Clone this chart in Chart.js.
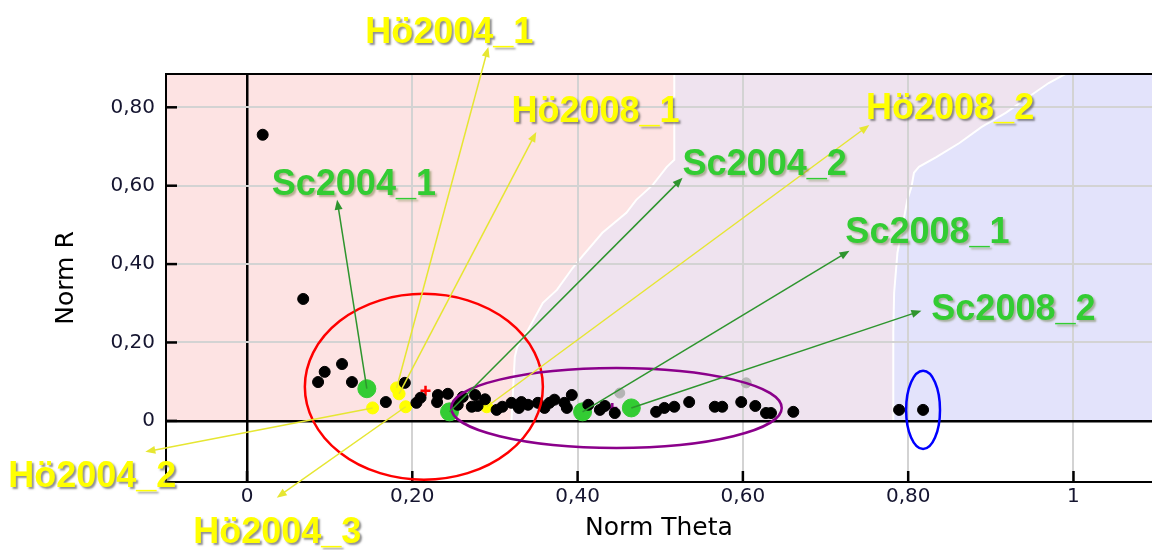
<!DOCTYPE html>
<html>
<head>
<meta charset="utf-8">
<script src="https://cdn.jsdelivr.net/npm/chart.js@4.4.0/dist/chart.umd.min.js"></script>
<style>
html, body { margin: 0; background: #fff; }
#wrap { width: 1152px; height: 550px; }
</style>
</head>
<body>
<div id="wrap"><canvas id="c"></canvas></div>
<script>
// axis ticks
const xTicks = [0, 0.2, 0.4, 0.6, 0.8, 1];
const xTickLabels = ['0', '0,20', '0,40', '0,60', '0,80', '1'];
const yTicks = [0, 0.2, 0.4, 0.6, 0.8];
const yTickLabels = ['0', '0,20', '0,40', '0,60', '0,80'];

// all samples (black)
const blackX = [0.019, 0.068, 0.086, 0.094, 0.115, 0.127, 0.168, 0.191, 0.205, 0.210, 0.231, 0.230, 0.243, 0.261, 0.276, 0.272, 0.279, 0.302, 0.309, 0.320, 0.332, 0.340, 0.352, 0.366, 0.372, 0.384, 0.393, 0.387, 0.427, 0.433, 0.445, 0.495, 0.505, 0.517, 0.535, 0.566, 0.575, 0.598, 0.615, 0.628, 0.634, 0.661, 0.789, 0.818, 0.255, 0.288, 0.329, 0.360, 0.413];
const blackY = [0.730, 0.311, 0.099, 0.125, 0.145, 0.099, 0.048, 0.097, 0.046, 0.059, 0.066, 0.048, 0.069, 0.061, 0.066, 0.036, 0.038, 0.028, 0.036, 0.046, 0.048, 0.041, 0.046, 0.046, 0.054, 0.046, 0.066, 0.033, 0.028, 0.038, 0.020, 0.023, 0.033, 0.036, 0.048, 0.036, 0.036, 0.048, 0.038, 0.020, 0.020, 0.023, 0.028, 0.028, 0.041, 0.055, 0.033, 0.033, 0.041];
const grayX = [0.451, 0.604];
const grayY = [0.071, 0.097];

// labelled samples
const hoNames = ['Hö2004_1', 'Hö2004_2', 'Hö2004_3', 'Hö2008_1', 'Hö2008_2'];
const hoX = [0.181, 0.152, 0.192, 0.184, 0.290];
const hoY = [0.084, 0.033, 0.036, 0.069, 0.036];
const scNames = ['Sc2004_1', 'Sc2004_2', 'Sc2008_1', 'Sc2008_2'];
const scX = [0.145, 0.245, 0.406, 0.465];
const scY = [0.082, 0.023, 0.023, 0.033];

// label text anchor (left, baseline) and arrow tip, in data units
const hoTextX = [0.143, -0.289, -0.065, 0.320, 0.749];
const hoTextY = [0.964, -0.168, -0.311, 0.763, 0.770];
const hoTipX = [0.292, -0.123, 0.036, 0.350, 0.753];
const hoTipY = [0.954, -0.079, -0.196, 0.737, 0.755];
const scTextX = [0.030, 0.527, 0.724, 0.828];
const scTextY = [0.577, 0.628, 0.454, 0.258];
const scTipX = [0.109, 0.527, 0.729, 0.816];
const scTipY = [0.564, 0.620, 0.434, 0.281];

// cluster ellipses
const ellCX = [0.214, 0.447, 0.818];
const ellCY = [0.087, 0.033, 0.028];
const ellRX = [0.144, 0.200, 0.0205];
const ellRY = [0.237, 0.102, 0.100];
const ellColors = ['#ff0000', '#8b008b', '#0000ff'];
const centerX = [0.216, 0.442, 0.818];
const centerY = [0.077, 0.033, 0.028];

// class region boundaries
const edge1X = [0.320, 0.324, 0.327, 0.340, 0.358, 0.375, 0.394, 0.402, 0.430, 0.459, 0.471, 0.491, 0.508, 0.517, 0.517];
const edge1Y = [0.000, 0.163, 0.189, 0.232, 0.301, 0.334, 0.390, 0.411, 0.480, 0.531, 0.564, 0.602, 0.648, 0.666, 0.890];
const edge2X = [0.782, 0.782, 0.783, 0.787, 0.793, 0.799, 0.804, 0.807, 0.813, 0.834, 0.862, 0.889, 0.918, 0.946, 0.970, 0.986, 0.995];
const edge2Y = [0.000, 0.232, 0.327, 0.429, 0.495, 0.564, 0.597, 0.633, 0.648, 0.673, 0.709, 0.750, 0.786, 0.827, 0.862, 0.880, 0.890];

const pts = (xs, ys) => xs.map((v, i) => ({x: v, y: ys[i]}));

function arrow(ctx, x0, y0, x1, y1, color) {
    const ang = Math.atan2(y1 - y0, x1 - x0);
    ctx.strokeStyle = color;
    ctx.fillStyle = color;
    ctx.lineWidth = 1.5;
    ctx.beginPath();
    ctx.moveTo(x0, y0);
    ctx.lineTo(x1 - 6 * Math.cos(ang), y1 - 6 * Math.sin(ang));
    ctx.stroke();
    ctx.beginPath();
    ctx.moveTo(x1, y1);
    ctx.lineTo(x1 - 10 * Math.cos(ang) + 4 * Math.sin(ang), y1 - 10 * Math.sin(ang) - 4 * Math.cos(ang));
    ctx.lineTo(x1 - 10 * Math.cos(ang) - 4 * Math.sin(ang), y1 - 10 * Math.sin(ang) + 4 * Math.cos(ang));
    ctx.closePath();
    ctx.fill();
}

const decor = {
    id: 'decor',
    beforeDraw(chart) {
        const {ctx, chartArea: a, scales: {x, y}} = chart;
        const px = v => x.getPixelForValue(v), py = v => y.getPixelForValue(v);
        ctx.save();
        ctx.beginPath();
        ctx.rect(a.left, a.top, a.right - a.left, a.bottom - a.top);
        ctx.clip();
        ctx.fillStyle = '#fde3e3';
        ctx.fillRect(a.left, a.top, a.right - a.left, py(0) - a.top);
        [[edge1X, edge1Y, '#efe3ef'], [edge2X, edge2Y, '#e3e3fb']].forEach(([ex, ey, col]) => {
            ctx.beginPath();
            ex.forEach((v, i) => i ? ctx.lineTo(px(v), py(ey[i])) : ctx.moveTo(px(v), py(ey[i])));
            ctx.lineTo(a.right + 5, a.top - 5);
            ctx.lineTo(a.right + 5, py(0));
            ctx.closePath();
            ctx.fillStyle = col;
            ctx.fill();
            ctx.beginPath();
            ex.forEach((v, i) => i ? ctx.lineTo(px(v), py(ey[i])) : ctx.moveTo(px(v), py(ey[i])));
            ctx.strokeStyle = '#fff';
            ctx.lineWidth = 2;
            ctx.stroke();
        });
        ctx.restore();
    },
    afterDatasetsDraw(chart) {
        const {ctx, chartArea: a, scales: {x, y}} = chart;
        const px = v => x.getPixelForValue(v), py = v => y.getPixelForValue(v);
        ctx.save();
        // top frame + inward tick marks
        ctx.strokeStyle = '#000';
        ctx.lineWidth = 2;
        ctx.beginPath();
        ctx.moveTo(a.left, a.top);
        ctx.lineTo(a.right, a.top);
        ctx.stroke();
        ctx.lineWidth = 2.5;
        xTicks.forEach(v => {
            ctx.beginPath();
            ctx.moveTo(px(v), a.bottom);
            ctx.lineTo(px(v), a.bottom - 11);
            ctx.stroke();
        });
        yTicks.forEach(v => {
            ctx.beginPath();
            ctx.moveTo(a.left, py(v));
            ctx.lineTo(a.left + 11, py(v));
            ctx.stroke();
        });
        // ellipses
        ctx.lineWidth = 2.5;
        ellCX.forEach((cx, i) => {
            ctx.beginPath();
            ctx.ellipse(px(cx), py(ellCY[i]), px(cx + ellRX[i]) - px(cx), py(ellCY[i]) - py(ellCY[i] + ellRY[i]), 0, 0, Math.PI * 2);
            ctx.strokeStyle = ellColors[i];
            ctx.stroke();
        });
        // arrows
        hoX.forEach((v, i) => arrow(ctx, px(v), py(hoY[i]), px(hoTipX[i]), py(hoTipY[i]), '#e6e632'));
        scX.forEach((v, i) => arrow(ctx, px(v), py(scY[i]), px(scTipX[i]), py(scTipY[i]), '#2e952e'));
        // labels
        ctx.font = 'bold 36px "Liberation Sans", Arial, sans-serif';
        ctx.textAlign = 'left';
        ctx.textBaseline = 'alphabetic';
        ctx.shadowColor = 'rgba(70,70,70,0.6)';
        ctx.shadowOffsetX = 2;
        ctx.shadowOffsetY = 2;
        ctx.shadowBlur = 2;
        ctx.fillStyle = '#ffff00';
        hoNames.forEach((t, i) => ctx.fillText(t, px(hoTextX[i]), py(hoTextY[i])));
        ctx.shadowColor = 'rgba(90,110,40,0.45)';
        ctx.fillStyle = '#33cc33';
        scNames.forEach((t, i) => ctx.fillText(t, px(scTextX[i]), py(scTextY[i])));
        ctx.restore();
    }
};

new Chart(document.getElementById('c'), {
    type: 'scatter',
    data: {
        datasets: [
            {data: pts(blackX, blackY), pointRadius: 5.5, backgroundColor: '#000', borderColor: '#000'},
            {data: pts(grayX, grayY), pointRadius: 5, backgroundColor: '#b4b4b4', borderColor: '#b4b4b4'},
            {data: pts(hoX, hoY), pointRadius: 6, backgroundColor: '#ffff00', borderColor: '#ffff00'},
            {data: pts(scX, scY), pointRadius: 9, backgroundColor: '#33cc33', borderColor: '#33cc33'},
            {data: pts(centerX, centerY), pointStyle: 'cross', pointRadius: 5, borderWidth: 2.5, borderColor: ellColors}
        ]
    },
    options: {
        responsive: true,
        maintainAspectRatio: false,
        animation: false,
        layout: {autoPadding: false, padding: {top: 74, right: 0, left: 0, bottom: 0}},
        plugins: {legend: {display: false}, tooltip: {enabled: false}},
        scales: {
            x: {
                type: 'linear',
                min: -0.098,
                max: 1.095,
                afterBuildTicks: s => { s.ticks = xTicks.map(v => ({value: v})); },
                afterFit: s => { s.height = 68; s.paddingLeft = 0; s.paddingRight = 0; },
                ticks: {
                    callback: (v, i) => xTickLabels[i],
                    font: {family: '"DejaVu Sans"', size: 20},
                    color: '#151530',
                    padding: 3,
                    maxRotation: 0,
                    autoSkip: false
                },
                grid: {
                    drawTicks: false,
                    color: c => c.tick && c.tick.value === 0 ? '#000' : '#d3d3d3',
                    lineWidth: c => c.tick && c.tick.value === 0 ? 2.5 : 2
                },
                border: {display: true, color: '#000', width: 2},
                title: {display: true, text: 'Norm Theta', font: {family: '"DejaVu Sans"', size: 25}, color: '#000', padding: {top: 0, bottom: 7}}
            },
            y: {
                type: 'linear',
                min: -0.156,
                max: 0.885,
                afterBuildTicks: s => { s.ticks = yTicks.map(v => ({value: v})); },
                afterFit: s => { s.width = 166; },
                ticks: {
                    callback: (v, i) => yTickLabels[i],
                    font: {family: '"DejaVu Sans"', size: 20},
                    color: '#151530',
                    padding: 11
                },
                grid: {
                    drawTicks: false,
                    color: c => c.tick && c.tick.value === 0 ? '#000' : '#d3d3d3',
                    lineWidth: c => c.tick && c.tick.value === 0 ? 2.5 : 2
                },
                border: {display: true, color: '#000', width: 2},
                title: {display: true, text: 'Norm R', font: {family: '"DejaVu Sans"', size: 25}, color: '#000', padding: {top: 51, bottom: 0}}
            }
        }
    },
    plugins: [decor]
});
</script>
</body>
</html>
